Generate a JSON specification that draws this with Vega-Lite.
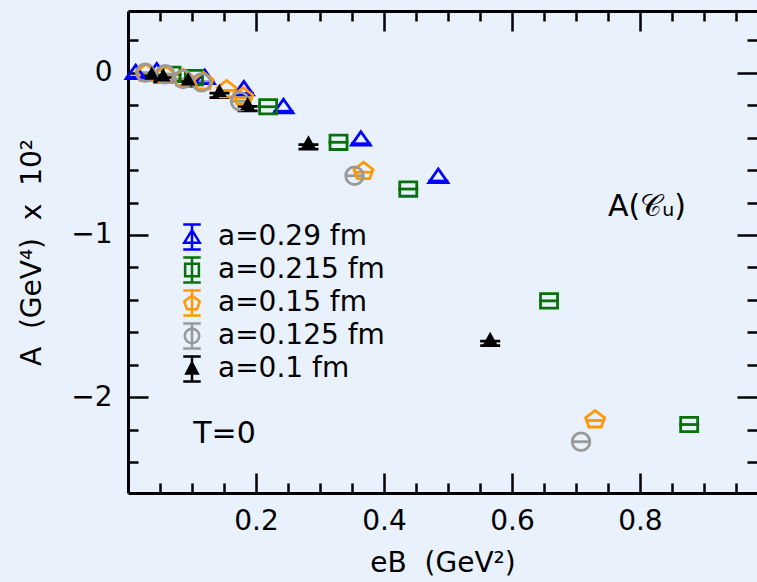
{
  "$schema": "https://vega.github.io/schema/vega-lite/v6.json",
  "width": 629,
  "height": 482,
  "autosize": {"type": "none"},
  "padding": {"left": 128, "top": 11, "right": 0, "bottom": 89},
  "background": "#e8f1fc",
  "config": {
    "view": {"stroke": null},
    "font": "DejaVu Sans",
    "axis": {"grid": false, "labelFont": "DejaVu Sans", "titleFont": "DejaVu Sans", "labelColor": "black", "titleColor": "black", "domainColor": "black", "tickColor": "black"}
  },
  "datasets": {
    "pts": [
      {"series": "a=0.29 fm", "eB": 0.012, "A": 0.0},
      {"series": "a=0.29 fm", "eB": 0.045, "A": 0.01},
      {"series": "a=0.29 fm", "eB": 0.12, "A": -0.03},
      {"series": "a=0.29 fm", "eB": 0.181, "A": -0.10},
      {"series": "a=0.29 fm", "eB": 0.243, "A": -0.21},
      {"series": "a=0.29 fm", "eB": 0.364, "A": -0.41},
      {"series": "a=0.29 fm", "eB": 0.485, "A": -0.64},
      {"series": "a=0.215 fm", "eB": 0.068, "A": -0.01},
      {"series": "a=0.215 fm", "eB": 0.103, "A": -0.03},
      {"series": "a=0.215 fm", "eB": 0.219, "A": -0.21},
      {"series": "a=0.215 fm", "eB": 0.329, "A": -0.429},
      {"series": "a=0.215 fm", "eB": 0.438, "A": -0.717},
      {"series": "a=0.215 fm", "eB": 0.658, "A": -1.406},
      {"series": "a=0.215 fm", "eB": 0.877, "A": -2.168},
      {"series": "a=0.15 fm", "eB": 0.028, "A": 0.0},
      {"series": "a=0.15 fm", "eB": 0.058, "A": -0.01},
      {"series": "a=0.15 fm", "eB": 0.086, "A": -0.03},
      {"series": "a=0.15 fm", "eB": 0.118, "A": -0.05},
      {"series": "a=0.15 fm", "eB": 0.154, "A": -0.10},
      {"series": "a=0.15 fm", "eB": 0.18, "A": -0.145},
      {"series": "a=0.15 fm", "eB": 0.368, "A": -0.604},
      {"series": "a=0.15 fm", "eB": 0.73, "A": -2.134},
      {"series": "a=0.125 fm", "eB": 0.027, "A": 0.0},
      {"series": "a=0.125 fm", "eB": 0.058, "A": -0.01},
      {"series": "a=0.125 fm", "eB": 0.086, "A": -0.04},
      {"series": "a=0.125 fm", "eB": 0.115, "A": -0.06},
      {"series": "a=0.125 fm", "eB": 0.175, "A": -0.176},
      {"series": "a=0.125 fm", "eB": 0.354, "A": -0.635},
      {"series": "a=0.125 fm", "eB": 0.708, "A": -2.274},
      {"series": "a=0.1 fm", "eB": 0.037, "A": -0.02},
      {"series": "a=0.1 fm", "eB": 0.055, "A": -0.03},
      {"series": "a=0.1 fm", "eB": 0.094, "A": -0.055},
      {"series": "a=0.1 fm", "eB": 0.143, "A": -0.126},
      {"series": "a=0.1 fm", "eB": 0.187, "A": -0.208},
      {"series": "a=0.1 fm", "eB": 0.282, "A": -0.443},
      {"series": "a=0.1 fm", "eB": 0.566, "A": -1.654}
    ],
    "notes": [
      {"label": "A(𝒞ᵤ)", "eB": 0.75, "A": -0.83},
      {"label": "T=0", "eB": 0.102, "A": -2.229}
    ]
  },
  "layer": [
    {
      "mark": {"type": "rule", "strokeDash": [13, 12], "strokeWidth": 2, "color": "black"},
      "encoding": {
        "y": {"datum": 0, "type": "quantitative", "scale": {"domain": [-2.59, 0.38], "nice": false, "zero": false}, "axis": null}
      }
    },
    {
      "data": {"name": "pts"},
      "mark": {"type": "point", "filled": false, "opacity": 1, "strokeWidth": 2.8, "size": 400},
      "encoding": {
        "x": {"field": "eB", "type": "quantitative", "scale": {"domain": [0, 0.983], "nice": false, "zero": false},
          "axis": {"orient": "bottom", "values": [0.05, 0.1, 0.15, 0.2, 0.25, 0.3, 0.35, 0.4, 0.45, 0.5, 0.55, 0.6, 0.65, 0.7, 0.75, 0.8, 0.85, 0.9, 0.95], "labels": false, "domain": false, "ticks": true, "tickWidth": 2.5, "tickSize": {"condition": {"test": "abs(datum.value*5 - round(datum.value*5)) < 0.001", "value": -20}, "value": -10}, "title": null}},
        "y": {"field": "A", "type": "quantitative", "scale": {"domain": [-2.59, 0.38], "nice": false, "zero": false},
          "axis": {"orient": "left", "values": [0.2, 0, -0.2, -0.4, -0.6, -0.8, -1, -1.2, -1.4, -1.6, -1.8, -2, -2.2, -2.4], "labels": false, "domain": false, "ticks": true, "tickWidth": 2.5, "tickSize": {"condition": {"test": "abs(datum.value - round(datum.value)) < 0.001", "value": -20}, "value": -10}, "title": null}},
        "stroke": {"field": "series", "type": "nominal", "scale": {"domain": ["a=0.29 fm", "a=0.215 fm", "a=0.15 fm", "a=0.125 fm", "a=0.1 fm"], "range": ["#0000ff", "#0a700a", "#ff9900", "#999999", "#000000"]}, "legend": null},
        "shape": {"field": "series", "type": "nominal", "scale": {"domain": ["a=0.29 fm", "a=0.215 fm", "a=0.15 fm", "a=0.125 fm", "a=0.1 fm"], "range": ["M-1,0.45H1", "M-1,0H1", "M-0.95,0.15H0.95", "M-0.9,0H0.9", "M-1,0H1M-1,0.45H1"]}, "legend": null}
      }
    },
    {
      "data": {"name": "pts"},
      "mark": {"type": "point", "filled": true, "opacity": 1, "strokeWidth": 2.8, "size": 400},
      "encoding": {
        "x": {"field": "eB", "type": "quantitative", "scale": {"domain": [0, 0.983], "nice": false, "zero": false},
          "axis": {"orient": "bottom", "values": [0.2, 0.4, 0.6, 0.8], "format": ".1f", "ticks": false, "domain": true, "domainWidth": 3, "labelFontSize": 28, "labelPadding": 14, "title": "eB\u00a0\u00a0(GeV²)", "titleFontSize": 28, "titleFontWeight": "normal", "titlePadding": 14}},
        "y": {"field": "A", "type": "quantitative", "scale": {"domain": [-2.59, 0.38], "nice": false, "zero": false},
          "axis": {"orient": "left", "values": [0, -1, -2], "format": "d", "ticks": false, "domain": true, "domainWidth": 3, "labelFontSize": 28, "labelPadding": 16, "title": "A\u00a0\u00a0(GeV⁴)\u00a0\u00a0x\u00a0\u00a010²", "titleFontSize": 28, "titleFontWeight": "normal", "titlePadding": 24}},
        "stroke": {"field": "series", "type": "nominal", "scale": {"domain": ["a=0.29 fm", "a=0.215 fm", "a=0.15 fm", "a=0.125 fm", "a=0.1 fm"], "range": ["#0000ff", "#0a700a", "#ff9900", "#999999", "#000000"]}, "legend": null},
        "fill": {"field": "series", "type": "nominal", "scale": {"domain": ["a=0.29 fm", "a=0.215 fm", "a=0.15 fm", "a=0.125 fm", "a=0.1 fm"], "range": ["transparent", "transparent", "transparent", "transparent", "#000000"]}, "legend": null},
        "shape": {"field": "series", "type": "nominal", "scale": {"domain": ["a=0.29 fm", "a=0.215 fm", "a=0.15 fm", "a=0.125 fm", "a=0.1 fm"], "range": ["M0,-0.75L0.95,0.6L-0.95,0.6Z", "M-0.85,-0.72H0.85V0.72H-0.85Z", "M0,-0.85L0.95,-0.12L0.62,0.8L-0.62,0.8L-0.95,-0.12Z", "M0.88,0A0.88,0.88 0 1,1 -0.88,0A0.88,0.88 0 1,1 0.88,0Z", "M0,-0.65L0.5,0.25L-0.5,0.25Z"]}, "legend": null}
      }
    },
    {
      "data": {"name": "pts"},
      "transform": [{"filter": "datum.eB > 5"}],
      "mark": {"type": "point", "filled": true, "opacity": 1, "strokeWidth": 2.5, "size": 625},
      "encoding": {
        "x": {"field": "eB", "type": "quantitative", "scale": {"domain": [0, 0.983], "nice": false, "zero": false},
          "axis": {"orient": "top", "values": [0.05, 0.1, 0.15, 0.2, 0.25, 0.3, 0.35, 0.4, 0.45, 0.5, 0.55, 0.6, 0.65, 0.7, 0.75, 0.8, 0.85, 0.9, 0.95], "labels": false, "domain": true, "domainWidth": 3, "ticks": true, "tickWidth": 2.5, "tickSize": {"condition": {"test": "abs(datum.value*5 - round(datum.value*5)) < 0.001", "value": -20}, "value": -10}, "title": null}},
        "y": {"field": "A", "type": "quantitative", "scale": {"domain": [-2.59, 0.38], "nice": false, "zero": false},
          "axis": {"orient": "right", "values": [0.2, 0, -0.2, -0.4, -0.6, -0.8, -1, -1.2, -1.4, -1.6, -1.8, -2, -2.2, -2.4], "labels": false, "domain": false, "ticks": true, "tickWidth": 2.5, "tickSize": {"condition": {"test": "abs(datum.value - round(datum.value)) < 0.001", "value": -20}, "value": -10}, "title": null}},
        "stroke": {"field": "series", "type": "nominal", "scale": {"domain": ["a=0.29 fm", "a=0.215 fm", "a=0.15 fm", "a=0.125 fm", "a=0.1 fm"], "range": ["#0000ff", "#0a700a", "#ff9900", "#999999", "#000000"]},
          "legend": {"orient": "none", "legendX": 50, "legendY": 212, "title": null, "labelFontSize": 28, "labelFont": "DejaVu Sans", "labelColor": "black", "labelLimit": 400, "symbolSize": 625, "symbolStrokeWidth": 2.5, "rowPadding": -3, "labelOffset": 12, "padding": 0}},
        "fill": {"field": "series", "type": "nominal", "scale": {"domain": ["a=0.29 fm", "a=0.215 fm", "a=0.15 fm", "a=0.125 fm", "a=0.1 fm"], "range": ["transparent", "transparent", "transparent", "transparent", "#000000"]},
          "legend": {"orient": "none", "legendX": 50, "legendY": 212, "title": null, "labelFontSize": 28, "labelFont": "DejaVu Sans", "labelColor": "black", "labelLimit": 400, "symbolSize": 625, "symbolStrokeWidth": 2.5, "rowPadding": -3, "labelOffset": 12, "padding": 0}},
        "shape": {"field": "series", "type": "nominal", "scale": {"domain": ["a=0.29 fm", "a=0.215 fm", "a=0.15 fm", "a=0.125 fm", "a=0.1 fm"], "range": [
            "M-0.7,-1H0.7M0,-1V1M-0.7,1H0.7M0,-0.55L0.62,0.45L-0.62,0.45Z",
            "M-0.7,-1H0.7M0,-1V1M-0.7,1H0.7M-0.55,-0.5H0.55V0.5H-0.55Z",
            "M-0.7,-1H0.7M0,-1V1M-0.7,1H0.7M0,-0.6L0.62,-0.12L0.4,0.5L-0.4,0.5L-0.62,-0.12Z",
            "M-0.7,-1H0.7M0,-1V1M-0.7,1H0.7M0.58,0A0.58,0.58 0 1,1 -0.58,0A0.58,0.58 0 1,1 0.58,0Z",
            "M-0.7,-1H0.7M0,-1V1M-0.7,1H0.7M0,-0.5L0.45,0.35L-0.45,0.35Z"]},
          "legend": {"orient": "none", "legendX": 50, "legendY": 212, "title": null, "labelFontSize": 28, "labelFont": "DejaVu Sans", "labelColor": "black", "labelLimit": 400, "symbolSize": 625, "symbolStrokeWidth": 2.5, "rowPadding": -3, "labelOffset": 12, "padding": 0}}
      }
    },
    {
      "data": {"name": "notes"},
      "mark": {"type": "text", "align": "left", "baseline": "middle", "fontSize": 30, "font": "DejaVu Sans", "color": "black"},
      "encoding": {
        "x": {"field": "eB", "type": "quantitative", "scale": {"domain": [0, 0.983], "nice": false, "zero": false}, "axis": null},
        "y": {"field": "A", "type": "quantitative", "scale": {"domain": [-2.59, 0.38], "nice": false, "zero": false}, "axis": null},
        "text": {"field": "label"}
      }
    }
  ],
  "resolve": {
    "scale": {"shape": "independent", "stroke": "independent", "fill": "independent"},
    "axis": {"x": "independent", "y": "independent"},
    "legend": {"shape": "independent", "stroke": "independent", "fill": "independent"}
  }
}
